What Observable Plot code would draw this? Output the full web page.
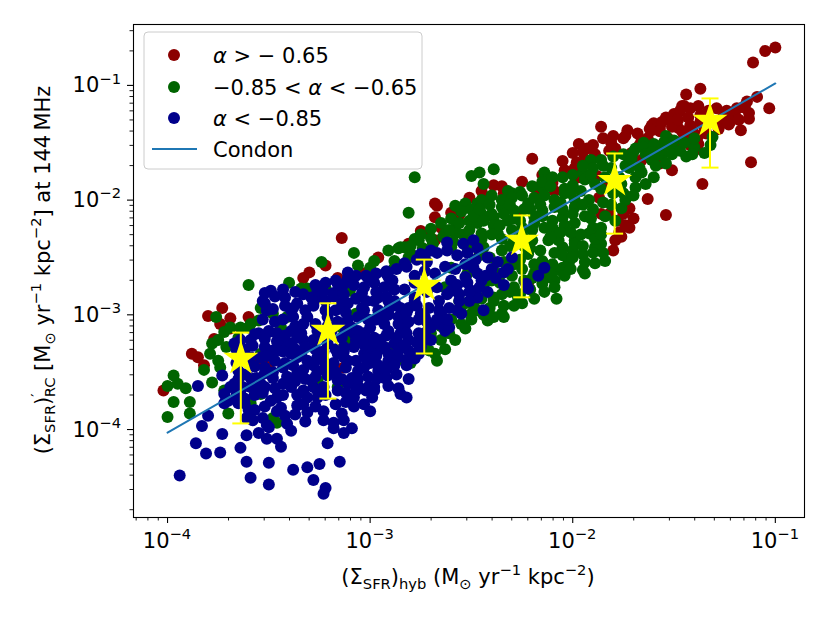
<!DOCTYPE html>
<html><head><meta charset="utf-8">
<script src="https://cdn.jsdelivr.net/npm/d3@7"></script>
<script src="https://cdn.jsdelivr.net/npm/@observablehq/plot@0.6"></script>
<style>body{margin:0;background:#fff} svg{font-family:"DejaVu Sans",sans-serif}</style>
</head><body><div id="chart"></div>
<script>
// log10 (x, y) of each region: alpha > -0.65
const redLog = [[-4.02,-3.66],[-3.88,-3.34],[-3.85,-3.37],[-3.82,-3.44],[-3.80,-3.01],[-3.73,-2.94],[-3.69,-3.03],[-3.77,-3.21],[-3.74,-3.08],[-3.60,-3.02],[-3.69,-3.12],[-3.52,-3.37],[-3.50,-3.46],[-3.56,-3.42],[-3.33,-2.68],[-3.30,-2.63],[-3.22,-2.57],[-3.14,-2.33],[-3.16,-2.68],[-3.03,-2.64],[-2.96,-2.50],[-3.13,-3.46],
[-2.68,-2.03],[-2.68,-2.15],[-2.65,-2.24],[-2.67,-2.05],[-2.71,-2.28],[-2.51,-1.98],[-2.44,-1.98],[-2.60,-2.11],[-2.56,-2.13],[-2.39,-1.87],[-2.34,-1.94],[-2.75,-2.27],[-2.81,-2.38],[-2.68,-2.35],[-2.20,-1.64],[-2.10,-1.85],[-2.14,-1.83],[-2.09,-1.92],[-2.15,-1.94],[-2.19,-1.89],[-1.97,-1.51],[-2.00,-1.59],[-1.93,-1.55],[-1.94,-1.65],[-1.99,-1.72],[-1.97,-1.80],[-1.98,-1.67],[-1.86,-1.36],[-1.73,-1.39],[-1.74,-1.44],[-1.82,-1.57],[-1.79,-1.55],[-1.87,-1.98],[-1.86,-2.12],[-1.87,-2.27],[-1.79,-2.35],[-1.80,-2.44],[-1.72,-2.24],[-1.72,-2.07],[-1.63,-1.99],[-1.54,-2.13],[-2.12,-2.59],[-2.22,-2.72],[-1.87,-2.38],[-1.82,-2.12],[-1.66,-1.48],[-1.61,-1.35],[-1.57,-1.37],[-1.54,-1.28],[-1.50,-1.25],[-1.45,-1.18],[-1.42,-1.35],[-1.41,-1.39],[-1.51,-1.74],[-1.36,-1.86],[-1.12,-1.67],[-1.03,-1.20],[-1.16,-1.19],[-1.13,-1.29],[-1.17,-1.39],[-1.00,-0.67],[-1.05,-0.70],[-1.11,-0.80],[-1.37,-1.03],[-1.44,-1.08],[-1.46,-1.18],[-1.15,-1.18],[-1.20,-1.25],[-1.26,-1.28],[-1.27,-1.33],[-1.22,-1.31],[-1.37,-1.26],[-1.60,-1.33],[-1.61,-1.39],[-1.48,-1.37],[-1.45,-1.44],[-1.53,-1.48],[-1.40,-1.57],[-1.38,-1.51],[-1.71,-1.59],[-1.66,-1.65],[-1.57,-1.68],[-1.35,-1.38],[-2.33,-2.05],[-2.28,-2.13],[-1.88,-1.79],[-1.83,-1.87],
[-1.68,-1.42],[-1.67,-1.52],[-1.62,-1.38],[-1.63,-1.46],[-1.61,-1.56],[-1.56,-1.32],[-1.57,-1.40],[-1.55,-1.50],[-1.52,-1.30],[-1.51,-1.36],[-1.53,-1.46],[-1.47,-1.22],[-1.48,-1.30],[-1.46,-1.40],[-1.47,-1.50],[-1.42,-1.20],[-1.43,-1.28],[-1.41,-1.44],[-1.42,-1.52],[-1.38,-1.18],[-1.37,-1.32],[-1.38,-1.44],[-1.33,-1.22],[-1.32,-1.30],[-1.34,-1.42],[-1.29,-1.20],[-1.28,-1.38],[-1.24,-1.22],[-1.23,-1.34],[-1.19,-1.20],[-1.18,-1.30],[-1.14,-1.14],[-1.13,-1.24],[-1.09,-1.10],
[-1.78,-2.18],[-1.77,-2.28],[-1.75,-2.12],[-1.74,-2.22],[-1.76,-2.32],[-1.70,-2.16],
[-2.45,-1.92],[-2.44,-2.02],[-2.35,-1.88],[-2.34,-1.98],[-2.25,-1.84],[-2.15,-1.78],[-2.05,-1.66],[-2.04,-1.74],[-1.95,-1.58],[-1.90,-1.52],[-1.89,-1.60],[-1.85,-1.46],[-1.80,-1.44],[-1.81,-1.50],[-1.75,-1.46]];
// -0.85 < alpha < -0.65
const greenLog = [[-4.00,-3.62],[-3.97,-3.53],[-3.95,-3.60],[-3.91,-3.64],[-3.97,-3.76],[-4.00,-3.89],[-3.89,-3.76],[-3.89,-3.86],[-3.79,-3.34],[-3.82,-3.48],[-3.78,-3.59],[-3.76,-3.02],[-3.78,-3.25],[-3.72,-3.15],[-3.75,-3.22],[-3.69,-3.11],[-3.71,-3.28],[-3.65,-3.20],[-3.60,-3.11],[-3.60,-2.74],[-3.75,-3.40],[-3.74,-3.46],[-3.72,-3.66],[-3.70,-3.86],[-3.48,-3.90],[-3.46,-3.94],[-3.54,-3.69],[-3.59,-3.77],[-3.64,-3.11],[-3.55,-3.05],[-3.59,-3.08],[-3.54,-2.94],[-3.48,-2.99],[-3.41,-3.02],[-3.40,-2.72],[-3.34,-2.77],[-3.31,-2.77],[-3.24,-2.54],[-3.22,-2.77],[-3.08,-2.46],[-3.06,-2.57],[-3.00,-2.59],[-2.98,-2.53],[-2.91,-2.44],[-2.86,-2.42],[-2.78,-2.34],[-2.88,-2.53],[-2.81,-2.50],[-2.88,-2.59],[-3.10,-2.79],[-3.07,-2.99],[-3.14,-3.11],[-3.11,-3.22],[-3.54,-3.34],[-3.44,-3.11],[-3.26,-3.57],[-3.16,-3.63],[-2.90,-3.29],[-2.83,-3.40],[-2.80,-3.42],[-2.67,-3.40],[-2.65,-3.22],[-2.71,-3.31],[-2.70,-3.16],[-2.61,-3.16],[-2.55,-3.08],[-2.50,-2.99],[-2.78,-1.80],[-2.81,-2.11],[-2.85,-2.41],[-2.58,-2.29],[-2.47,-2.20],[-2.40,-2.12],[-2.50,-1.79],[-2.46,-1.76],[-2.39,-1.73],[-2.44,-1.86],[-2.30,-1.94],[-2.26,-1.93],[-2.14,-1.76],[-2.14,-1.83],[-2.00,-1.87],[-1.95,-1.76],[-1.91,-1.65],[-1.86,-1.65],[-1.69,-1.55],[-1.65,-1.50],[-1.60,-1.51],[-1.54,-1.44],[-1.51,-1.54],[-1.47,-1.57],[-1.40,-1.54],[-1.35,-1.59],[-1.31,-1.45],[-1.69,-1.89],[-1.64,-1.86],[-1.67,-1.72],[-1.61,-1.65],[-1.56,-1.61],[-1.72,-1.72],[-1.74,-2.00],[-1.76,-2.07],[-1.77,-1.80],[-1.92,-2.00],[-1.99,-2.06],[-1.99,-2.20],[-1.90,-2.24],[-1.86,-2.38],[-1.84,-2.53],[-1.94,-2.64],[-2.00,-2.44],[-2.09,-2.29],[-2.05,-2.15],[-2.15,-2.09],[-2.22,-2.03],[-2.29,-2.09],[-2.35,-2.06],[-2.47,-2.03],[-2.32,-1.92],[-2.19,-1.98],[-2.15,-1.89],[-2.09,-2.00],[-2.04,-1.94],[-2.10,-2.18],[-2.19,-2.20],[-2.25,-2.24],[-2.32,-2.18],[-2.39,-2.15],[-2.45,-2.12],[-2.53,-2.03],[-2.58,-2.05],[-2.51,-2.18],[-2.58,-2.24],[-2.63,-2.29],[-2.70,-2.33],[-2.76,-2.35],[-2.83,-2.41],[-2.45,-2.29],[-2.37,-2.29],[-2.29,-2.35],[-2.20,-2.35],[-2.12,-2.35],[-2.05,-2.41],[-1.99,-2.35],[-1.95,-2.47],[-2.02,-2.53],[-2.07,-2.61],[-2.15,-2.53],[-2.22,-2.47],[-2.35,-2.44],[-2.44,-2.41],[-2.52,-2.41],[-2.60,-2.41],[-2.12,-2.67],[-2.05,-2.59],[-2.08,-2.86],[-2.15,-2.73],[-2.19,-2.64],[-2.07,-2.35],[-2.35,-2.64],[-2.44,-2.76],[-2.52,-2.64],[-2.60,-2.59],[-2.63,-2.76],[-2.56,-2.88],[-2.39,-2.88],[-2.35,-2.99],[-2.47,-2.96],[-2.34,-3.02],[-2.42,-3.05],[-2.53,-2.90],[-2.39,-2.85],[-2.29,-2.76],[-2.27,-2.85],[-2.09,-2.70],[-2.02,-2.55],[-1.95,-2.61],[-1.89,-2.55],[-1.89,-2.41],[-1.92,-2.29],[-1.86,-2.24],[-1.72,-1.65],[-1.60,-1.63],
[-2.80,-2.40],[-2.79,-2.48],[-2.75,-2.30],[-2.74,-2.42],[-2.70,-2.25],[-2.69,-2.38],[-2.70,-3.20],[-2.68,-3.34],[-2.65,-2.20],[-2.64,-2.32],[-2.65,-3.10],[-2.63,-3.30],[-2.60,-2.16],[-2.61,-2.26],[-2.59,-2.36],[-2.60,-3.04],[-2.58,-3.22],[-2.55,-2.10],[-2.56,-2.20],[-2.54,-2.30],[-2.55,-2.98],[-2.53,-3.12],[-2.50,-2.08],[-2.49,-2.14],[-2.51,-2.26],[-2.50,-2.36],[-2.49,-2.92],[-2.50,-3.04],[-2.45,-2.00],[-2.46,-2.08],[-2.44,-2.18],[-2.45,-2.34],[-2.46,-2.48],[-2.45,-2.86],[-2.44,-3.00],[-2.40,-1.96],[-2.41,-2.04],[-2.39,-2.22],[-2.40,-2.30],[-2.41,-2.50],[-2.39,-2.62],[-2.40,-2.70],[-2.41,-2.94],[-2.39,-3.02],[-2.35,-2.00],[-2.34,-2.12],[-2.36,-2.22],[-2.35,-2.34],[-2.34,-2.54],[-2.36,-2.72],[-2.35,-2.82],[-2.34,-2.92],[-2.30,-1.98],[-2.31,-2.04],[-2.29,-2.16],[-2.30,-2.26],[-2.31,-2.40],[-2.29,-2.56],[-2.30,-2.66],[-2.31,-2.80],[-2.29,-2.92],[-2.25,-1.96],[-2.24,-2.08],[-2.26,-2.18],[-2.25,-2.30],[-2.24,-2.40],[-2.26,-2.52],[-2.25,-2.60],[-2.24,-2.70],[-2.26,-2.82],[-2.25,-2.90],[-2.20,-1.88],[-2.21,-2.08],[-2.19,-2.14],[-2.20,-2.26],[-2.21,-2.42],[-2.19,-2.56],[-2.20,-2.68],[-2.21,-2.78],[-2.19,-2.86],[-2.15,-1.84],[-2.14,-1.96],[-2.16,-2.04],[-2.15,-2.14],[-2.14,-2.24],[-2.16,-2.44],[-2.15,-2.62],[-2.14,-2.80],[-2.10,-1.80],[-2.11,-1.88],[-2.09,-2.06],[-2.10,-2.24],[-2.11,-2.32],[-2.09,-2.46],[-2.10,-2.56],[-2.11,-2.64],[-2.09,-2.76],[-2.05,-1.80],[-2.04,-1.90],[-2.06,-2.02],[-2.05,-2.08],[-2.04,-2.22],[-2.06,-2.28],[-2.05,-2.48],[-2.04,-2.66],[-2.00,-1.78],[-2.01,-1.94],[-1.99,-2.00],[-2.00,-2.12],[-2.01,-2.28],[-1.99,-2.38],[-2.00,-2.50],[-2.01,-2.60],[-1.95,-1.70],[-1.94,-1.82],[-1.96,-1.92],[-1.95,-2.04],[-1.94,-2.14],[-1.96,-2.30],[-1.95,-2.40],[-1.94,-2.54],[-1.90,-1.72],[-1.91,-1.78],[-1.89,-1.86],[-1.90,-2.08],[-1.91,-2.16],[-1.89,-2.34],[-1.90,-2.46],[-1.85,-1.70],[-1.84,-1.80],[-1.86,-1.90],[-1.85,-2.02],[-1.84,-2.14],[-1.86,-2.30],[-1.85,-2.46],[-1.80,-1.62],[-1.81,-1.72],[-1.79,-1.82],[-1.80,-1.94],[-1.81,-2.04],[-1.79,-2.18],[-1.75,-1.60],[-1.74,-1.70],[-1.76,-1.86],[-1.75,-1.94],[-1.70,-1.58],[-1.71,-1.64],[-1.69,-1.80],[-1.70,-1.96],[-1.65,-1.54],[-1.64,-1.60],[-1.66,-1.76],[-1.60,-1.52],[-1.61,-1.58],[-1.59,-1.70],[-1.60,-1.80],[-1.55,-1.50],[-1.56,-1.56],[-1.54,-1.68],[-1.50,-1.48],[-1.51,-1.60],[-1.45,-1.50],[-1.44,-1.62],[-1.40,-1.46],[-1.41,-1.60],[-1.32,-1.52]];
// alpha < -0.85
const blueLog = [[-3.94,-4.40],[-3.86,-4.12],[-3.81,-4.21],[-3.74,-4.20],[-3.73,-4.04],[-3.83,-3.97],[-3.80,-3.88],[-3.85,-3.62],[-3.73,-3.53],[-3.69,-3.63],[-3.70,-3.75],[-3.72,-3.69],[-3.72,-3.77],[-3.65,-3.77],[-3.60,-3.83],[-3.64,-3.66],[-3.55,-3.63],[-3.59,-3.55],[-3.64,-4.16],[-3.61,-4.28],[-3.59,-4.42],[-3.50,-4.29],[-3.50,-4.48],[-3.38,-4.35],[-3.31,-4.33],[-3.28,-4.44],[-3.25,-4.30],[-3.22,-4.51],[-3.23,-4.56],[-3.15,-4.28],[-3.21,-4.12],[-3.44,-4.15],[-3.39,-4.01],[-3.41,-3.95],[-3.46,-4.08],[-3.51,-4.08],[-3.61,-4.05],[-3.55,-4.03],[-3.50,-3.98],[-3.53,-3.90],[-3.57,-3.83],[-3.44,-3.81],[-3.36,-3.79],[-3.31,-3.85],[-3.23,-3.92],[-3.18,-3.99],[-3.13,-4.03],[-3.09,-3.99],[-3.14,-3.86],[-3.12,-3.76],[-3.08,-3.72],[-3.00,-3.84],[-2.99,-3.72],[-3.01,-3.63],[-3.06,-3.62],[-3.14,-3.56],[-2.85,-3.69],[-2.82,-3.72],[-2.92,-3.55],[-2.96,-3.49],[-3.00,-3.42],[-2.86,-3.37],[-2.81,-3.38],[-2.76,-3.34],[-2.70,-3.22],[-2.63,-3.14],[-2.66,-3.08],[-3.66,-3.72],[-3.67,-3.60],[-3.59,-3.63],[-3.52,-3.63],[-3.46,-3.72],[-3.39,-3.63],[-3.31,-3.72],[-3.28,-3.63],[-3.36,-3.51],[-3.43,-3.46],[-3.48,-3.55],[-3.54,-3.60],[-3.52,-3.46],[-3.59,-3.37],[-3.48,-3.31],[-3.39,-3.34],[-3.31,-3.40],[-3.26,-3.49],[-3.18,-3.49],[-3.16,-3.34],[-3.11,-3.40],[-3.06,-3.49],[-3.03,-3.34],[-2.96,-3.31],[-2.91,-3.40],[-2.88,-3.25],[-2.81,-3.22],[-2.76,-3.16],[-2.70,-3.11],[-2.63,-3.08],[-2.83,-3.11],[-2.91,-3.14],[-2.98,-3.20],[-3.03,-3.16],[-3.09,-3.11],[-3.14,-3.20],[-3.21,-3.25],[-3.28,-3.22],[-3.34,-3.16],[-3.39,-3.14],[-3.46,-3.16],[-3.50,-3.14],[-3.59,-3.22],[-3.64,-3.22],[-3.52,-3.28],[-3.44,-3.25],[-3.36,-3.37],[-3.26,-3.37],[-3.29,-3.57],[-3.43,-3.60],[-3.49,-3.75],[-3.62,-3.77],[-3.65,-3.49],[-3.54,-3.37],
[-3.49,-2.79],[-3.53,-2.88],[-3.51,-2.96],[-3.42,-2.85],[-3.38,-2.94],[-3.26,-2.85],[-3.22,-2.88],[-3.16,-2.73],[-3.11,-2.63],[-3.11,-2.68],[-3.01,-2.68],[-2.92,-2.64],[-2.89,-2.70],[-2.78,-2.66],[-2.75,-2.47],[-3.04,-2.81],[-3.14,-2.90],[-3.21,-3.02],[-3.28,-2.90],[-3.31,-3.02],[-3.50,-3.15],[-3.67,-3.25],[-3.55,-3.16],[-3.41,-3.28],[-3.04,-2.94],[-2.98,-2.88],[-2.95,-3.02],[-2.88,-2.88],[-2.83,-3.02],[-2.78,-2.88],[-2.85,-3.16],[-2.95,-3.22],[-3.08,-3.16],[-3.13,-3.28],[-3.01,-3.34],[-2.91,-3.34],[-2.81,-3.31],[-3.52,-2.81],[-3.39,-2.96],[-3.36,-2.90],[-3.29,-2.85],[-3.26,-2.79],[-3.18,-2.81],[-3.14,-2.76],[-3.11,-2.90],[-3.03,-2.96],[-2.96,-2.85],[-2.91,-2.96],[-2.86,-3.02],[-2.81,-2.94],[-2.78,-2.85],[-2.75,-2.99],[-2.71,-3.11],[-2.73,-3.22],[-2.76,-3.31],[-2.86,-3.31],[-2.91,-3.42],[-2.93,-3.55],[-2.98,-3.63],[-3.03,-3.46],[-3.09,-3.55],[-3.16,-3.57],[-3.23,-3.63],[-3.26,-3.72],[-3.33,-3.66],[-3.46,-3.31],[-3.39,-3.25],[-3.33,-3.22],[-3.26,-3.20],[-3.19,-3.14],[-3.13,-3.08],[-3.06,-3.14],[-3.00,-3.11],[-2.93,-3.08],[-3.00,-3.28],[-3.13,-3.37],[-3.23,-3.40],[-3.29,-3.42],[-2.73,-2.48],
[-2.70,-2.44],[-2.62,-2.37],[-2.54,-2.38],[-2.49,-2.35],[-2.30,-2.50],[-2.34,-2.63],[-2.34,-2.74],[-2.40,-2.60],[-2.49,-2.59],[-2.53,-2.67],[-2.45,-2.70],[-2.47,-2.85],[-2.50,-2.79],[-2.60,-2.70],[-2.60,-2.79],[-2.56,-2.88],[-2.44,-2.96],[-2.55,-2.99],[-2.61,-3.11],[-2.66,-2.88],[-2.65,-2.99],[-2.73,-3.02],[-2.85,-2.94],[-2.91,-2.88],[-2.91,-2.67],[-2.83,-2.55],[-2.17,-2.66],[-2.14,-2.59],[-2.23,-2.73],[-2.75,-3.28],[-2.22,-2.77],[-2.51,-2.88],
[-3.66,-3.30],[-3.66,-3.42],[-3.65,-3.56],[-3.66,-3.70],[-3.62,-3.30],[-3.61,-3.41],[-3.62,-3.52],[-3.63,-3.63],[-3.62,-3.73],[-3.61,-3.90],[-3.57,-3.17],[-3.58,-3.27],[-3.57,-3.45],[-3.56,-3.55],[-3.57,-3.70],[-3.58,-3.92],[-3.52,-2.90],[-3.53,-3.04],[-3.52,-3.21],[-3.51,-3.36],[-3.52,-3.51],[-3.53,-3.68],[-3.52,-3.80],[-3.51,-3.96],[-3.47,-2.84],[-3.48,-2.95],[-3.47,-3.06],[-3.46,-3.23],[-3.47,-3.40],[-3.48,-3.50],[-3.47,-3.64],[-3.46,-3.84],[-3.43,-2.78],[-3.42,-2.92],[-3.43,-3.04],[-3.42,-3.18],[-3.43,-3.32],[-3.42,-3.42],[-3.41,-3.54],[-3.43,-3.70],[-3.42,-3.88],[-3.37,-2.80],[-3.38,-3.02],[-3.37,-3.10],[-3.36,-3.20],[-3.37,-3.30],[-3.38,-3.44],[-3.37,-3.58],[-3.36,-3.70],[-3.37,-3.87],[-3.33,-2.82],[-3.32,-2.96],[-3.33,-3.08],[-3.32,-3.28],[-3.34,-3.34],[-3.33,-3.48],[-3.32,-3.56],[-3.33,-3.78],[-3.32,-3.93],[-3.27,-2.74],[-3.28,-2.92],[-3.27,-3.08],[-3.26,-3.14],[-3.27,-3.30],[-3.28,-3.44],[-3.27,-3.54],[-3.26,-3.66],[-3.27,-3.80],[-3.22,-2.72],[-3.23,-2.80],[-3.22,-2.96],[-3.21,-3.10],[-3.22,-3.18],[-3.23,-3.32],[-3.22,-3.46],[-3.21,-3.53],[-3.22,-3.70],[-3.23,-3.84],[-3.17,-2.70],[-3.18,-2.84],[-3.17,-2.96],[-3.16,-3.06],[-3.17,-3.30],[-3.18,-3.42],[-3.17,-3.50],[-3.16,-3.66],[-3.17,-3.78],[-3.18,-3.94],[-3.12,-2.72],[-3.13,-2.82],[-3.12,-2.98],[-3.11,-3.04],[-3.12,-3.14],[-3.13,-3.32],[-3.12,-3.46],[-3.11,-3.60],[-3.12,-3.68],[-3.13,-3.92],[-3.07,-2.66],[-3.08,-2.74],[-3.07,-2.86],[-3.06,-3.02],[-3.07,-3.22],[-3.08,-3.28],[-3.07,-3.40],[-3.06,-3.56],[-3.07,-3.66],[-3.08,-3.80],[-3.02,-2.66],[-3.03,-2.76],[-3.02,-2.88],[-3.01,-3.04],[-3.02,-3.20],[-3.03,-3.26],[-3.02,-3.38],[-3.01,-3.54],[-3.02,-3.66],[-3.03,-3.78],[-2.97,-2.64],[-2.98,-2.72],[-2.97,-2.80],[-2.96,-2.96],[-2.97,-3.04],[-2.98,-3.24],[-2.97,-3.36],[-2.96,-3.44],[-2.97,-3.56],[-2.98,-3.66],[-2.92,-2.62],[-2.93,-2.76],[-2.92,-2.84],[-2.91,-3.00],[-2.92,-3.18],[-2.93,-3.28],[-2.92,-3.48],[-2.91,-3.62],[-2.87,-2.60],[-2.88,-2.78],[-2.87,-2.92],[-2.86,-3.08],[-2.87,-3.20],[-2.88,-3.44],[-2.87,-3.52],[-2.86,-3.64],[-2.82,-2.58],[-2.83,-2.78],[-2.82,-2.98],[-2.81,-3.06],[-2.82,-3.16],[-2.83,-3.26],[-2.82,-3.44],[-2.81,-3.56],[-2.77,-2.52],[-2.78,-2.72],[-2.77,-2.92],[-2.76,-3.04],[-2.77,-3.24],[-2.78,-3.38],[-2.72,-2.54],[-2.73,-2.62],[-2.72,-2.80],[-2.71,-2.94],[-2.72,-3.06],[-2.73,-3.16],[-2.67,-2.46],[-2.68,-2.64],[-2.67,-2.76],[-2.66,-2.96],[-2.67,-3.04],[-2.62,-2.44],[-2.63,-2.58],[-2.62,-2.82],[-2.61,-2.94],[-2.62,-3.04],[-2.57,-2.48],[-2.58,-2.60],[-2.57,-2.74],[-2.56,-2.82],[-2.57,-2.96],[-2.52,-2.46],[-2.53,-2.56],[-2.52,-2.72],[-2.51,-2.80],[-2.47,-2.42],[-2.48,-2.52],[-2.47,-2.64],[-2.46,-2.76],[-2.42,-2.50],[-2.43,-2.66],[-2.42,-2.80],[-2.37,-2.54],[-2.38,-2.68],[-2.32,-2.60]];

// binned medians (stars) with error bars
const starX  = [2.30e-4, 6.19e-4, 1.85e-3, 5.6e-3, 1.61e-2, 4.76e-2];
const starY  = [4.16e-4, 7.3e-4, 1.80e-3, 4.45e-3, 1.48e-2, 4.94e-2];
const starLo = [1.13e-4, 1.86e-4, 4.6e-4, 1.42e-3, 5.1e-3, 1.92e-2];
const starHi = [7.0e-4, 1.26e-3, 3.03e-3, 7.35e-3, 2.55e-2, 7.7e-2];

// Condon relation
const condonX = [1e-4, 0.1];
const condonY = [9.4e-5, 0.104];

const xDomain = [Math.pow(10,-4.168), Math.pow(10,-0.856)];
const yDomain = [Math.pow(10,-4.767), Math.pow(10,-0.469)];
const xMajor = [1e-4, 1e-3, 1e-2, 1e-1];
const xExp = ["\u22124", "\u22123", "\u22122", "\u22121"];
const yMajor = [1e-4, 1e-3, 1e-2, 1e-1];
const yExp = ["\u22124", "\u22123", "\u22122", "\u22121"];
const legendLabels = [
  [{t:"\u03b1", it:true}, {t:" > \u2212 0.65"}],
  [{t:"\u22120.85 < "}, {t:"\u03b1", it:true}, {t:" < \u22120.65"}],
  [{t:"\u03b1", it:true}, {t:" < \u22120.85"}],
  [{t:"Condon"}]
];
const colors = {red:"#8b0000", green:"#006400", blue:"#00008b", line:"#1f77b4", star:"#ffff00"};

const toPts = arr => arr.map(([a,b]) => ({x: Math.pow(10,a), y: Math.pow(10,b)}));
const red = toPts(redLog), green = toPts(greenLog), blue = toPts(blueLog);
const stars = starX.map((x,i) => ({x, y: starY[i], lo: starLo[i], hi: starHi[i]}));
const condon = condonX.map((x,i) => ({x, y: condonY[i]}));
const minorOf = dom => [-5,-4,-3,-2,-1,0].flatMap(e => [2,3,4,5,6,7,8,9].map(m => m*Math.pow(10,e))).filter(v => v >= dom[0] && v <= dom[1]);

const cap = {draw(ctx, size){ const w = Math.sqrt(size/Math.PI); ctx.moveTo(-w,0); ctx.lineTo(w,0); }};
const noLabel = () => "";

const chart = Plot.plot({
  width: 830, height: 623,
  marginLeft: 133, marginRight: 26, marginTop: 24, marginBottom: 106,
  style: {fontFamily: "DejaVu Sans", fontSize: "21px", background: "#fff", color: "#000"},
  x: {type: "log", domain: xDomain},
  y: {type: "log", domain: yDomain},
  marks: [
    Plot.dot(red, {x: "x", y: "y", r: 6, fill: colors.red}),
    Plot.dot(green, {x: "x", y: "y", r: 6, fill: colors.green}),
    Plot.dot(blue, {x: "x", y: "y", r: 6, fill: colors.blue}),
    Plot.line(condon, {x: "x", y: "y", stroke: colors.line, strokeWidth: 2}),
    Plot.ruleX(stars, {x: "x", y1: "lo", y2: "hi", stroke: colors.star, strokeWidth: 2}),
    Plot.dot(stars, {x: "x", y: "lo", symbol: cap, r: 8.5, fill: "none", stroke: colors.star, strokeWidth: 2}),
    Plot.dot(stars, {x: "x", y: "hi", symbol: cap, r: 8.5, fill: "none", stroke: colors.star, strokeWidth: 2}),
    Plot.dot(stars, {x: "x", y: "y", symbol: "star", r: 11, fill: colors.star, stroke: "none"}),
    Plot.frame({stroke: "#000", strokeWidth: 1.1}),
    Plot.axisX({ticks: xMajor, tickSize: 6, tickFormat: noLabel, label: null, strokeWidth: 1.1}),
    Plot.axisX({ticks: minorOf(xDomain), tickSize: 3.5, tickFormat: noLabel, label: null, strokeWidth: 0.9}),
    Plot.axisY({ticks: yMajor, tickSize: 6, tickFormat: noLabel, label: null, strokeWidth: 1.1}),
    Plot.axisY({ticks: minorOf(yDomain), tickSize: 3.5, tickFormat: noLabel, label: null, strokeWidth: 0.9})
  ]
});
document.getElementById("chart").appendChild(chart);

const FS = 21;
function addMath(sel, parts, fs) {
  let cur = 0;
  parts.forEach(p => {
    const t = sel.append("tspan").text(p.t);
    let target = 0, size = fs;
    if (p.sub) { target = 0.24*fs; size = 0.7*fs; }
    if (p.sup) { target = -0.42*fs; size = 0.7*fs; }
    t.attr("font-size", size);
    if (target !== cur) t.attr("dy", target - cur);
    if (p.dx) t.attr("dx", p.dx);
    if (p.it) t.attr("font-style", "italic");
    cur = target;
  });
}
const svg = d3.select(chart);
const sx = chart.scale("x"), sy = chart.scale("y");
const g = svg.append("g").attr("font-family", "DejaVu Sans").attr("fill", "#000");

xMajor.forEach((v,i) => {
  const t = g.append("text").attr("x", sx.apply(v)).attr("y", 548).attr("text-anchor", "middle").attr("font-size", FS);
  addMath(t, [{t:"10"}, {t:xExp[i], sup:true}], FS);
});
yMajor.forEach((v,i) => {
  const t = g.append("text").attr("x", 121).attr("y", sy.apply(v) + 7.5).attr("text-anchor", "end").attr("font-size", FS);
  addMath(t, [{t:"10"}, {t:yExp[i], sup:true}], FS);
});

const xl = g.append("text").attr("x", 468).attr("y", 584).attr("text-anchor", "middle").attr("font-size", FS);
addMath(xl, [{t:"(\u03a3"}, {t:"SFR", sub:true}, {t:")"}, {t:"hyb", sub:true}, {t:" (M"}, {t:"\u2299", sub:true}, {t:" yr"}, {t:"\u22121", sup:true}, {t:" kpc"}, {t:"\u22122", sup:true}, {t:")"}], FS);

const yl = g.append("text").attr("transform", "translate(50,270) rotate(-90)").attr("text-anchor", "middle").attr("font-size", FS);
addMath(yl, [{t:"(\u03a3"}, {t:"SFR", sub:true}, {t:")"}, {t:"\u2032", sup:true}, {t:"RC", sub:true, dx:-4}, {t:" [M"}, {t:"\u2299", sub:true}, {t:" yr"}, {t:"\u22121", sup:true}, {t:" kpc"}, {t:"\u22122", sup:true}, {t:"] at 144\u2009MHz"}], FS);

// legend
const lg = svg.append("g").attr("font-family", "DejaVu Sans").attr("text-anchor", "start");
lg.append("rect").attr("x", 144).attr("y", 32).attr("width", 278).attr("height", 137).attr("rx", 4)
  .attr("fill", "#fff").attr("fill-opacity", 0.8).attr("stroke", "#cccccc").attr("stroke-width", 1);
const rows = [55, 87, 118, 149];
[colors.red, colors.green, colors.blue].forEach((c,i) => {
  lg.append("circle").attr("cx", 174).attr("cy", rows[i]).attr("r", 6).attr("fill", c);
});
lg.append("line").attr("x1", 152).attr("x2", 197).attr("y1", rows[3]).attr("y2", rows[3]).attr("stroke", colors.line).attr("stroke-width", 2);
legendLabels.forEach((parts,i) => {
  const t = lg.append("text").attr("x", 213).attr("y", rows[i] + 7.5).attr("text-anchor", "start").attr("font-size", FS).attr("fill", "#000");
  addMath(t, parts, FS);
});
</script></body></html>
